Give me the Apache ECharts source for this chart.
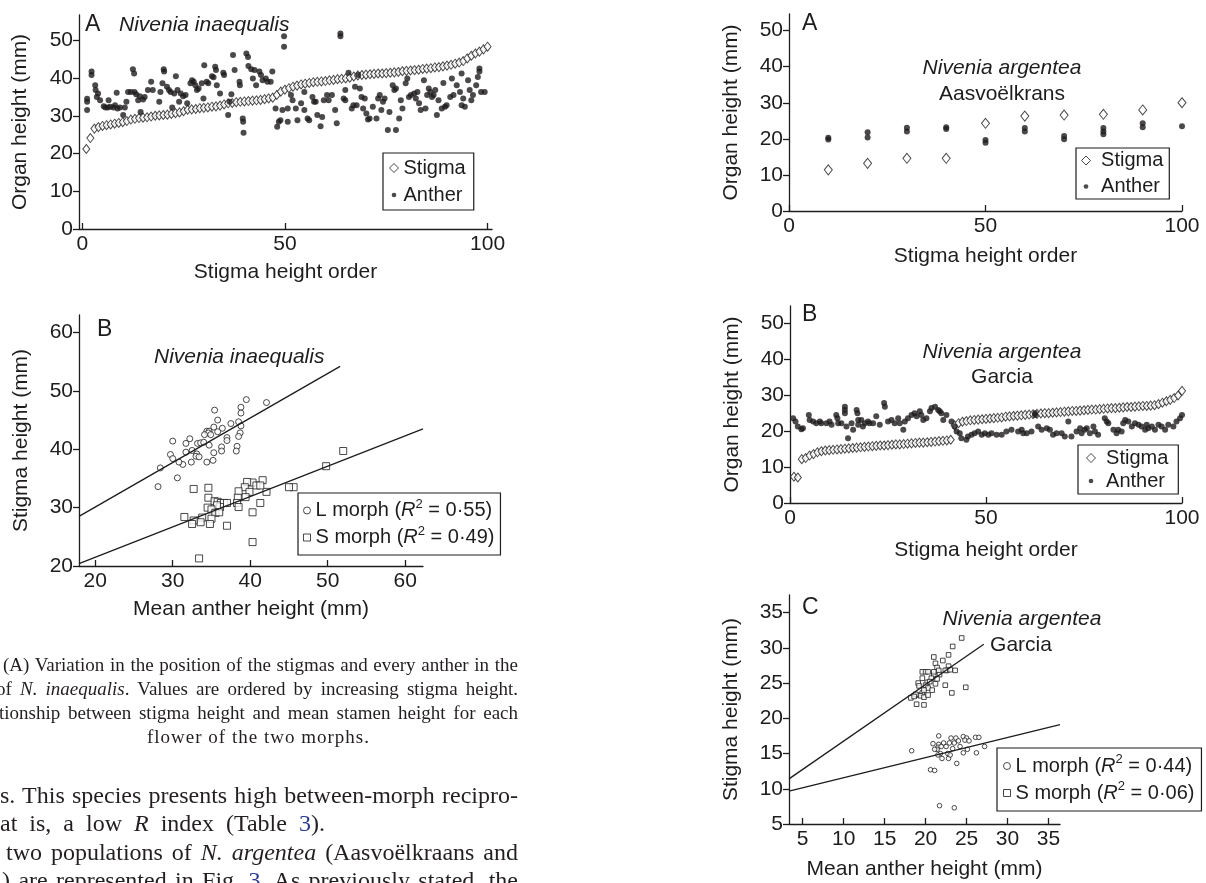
<!DOCTYPE html>
<html>
<head>
<meta charset="utf-8">
<title>Nivenia stigma and anther heights</title>
<script src="https://cdn.jsdelivr.net/npm/echarts@6/dist/echarts.min.js"></script>
<style>
html, body { margin: 0; padding: 0; background: #fff; overflow: hidden; }
#page { position: relative; width: 1206px; height: 883px; overflow: hidden; }
#chart { position: absolute; left: 0; top: 0; width: 1206px; height: 883px; }
.ln { position: absolute; font-family: "Liberation Serif", "DejaVu Serif", serif; color: #231f20; white-space: nowrap; }
.j { white-space: normal; text-align: justify; text-align-last: justify; }
.cap { font-size: 19px; line-height: 24px; }
.body { font-size: 24px; line-height: 29px; }
.ref { color: #2b3990; }
</style>
</head>
<body>
<div id="page">
  <div id="chart"></div>
  <!-- caption of the left figure -->
  <div class="ln cap j" style="left:3px; top:653px; width:515px;">(A) Variation in the position of the stigmas and every anther in the</div>
  <div class="ln cap j" style="left:-4px; top:677px; width:522px;">of <i>N. inaequalis</i>. Values are ordered by increasing stigma height.</div>
  <div class="ln cap j" style="left:-1px; top:701px; width:519px;">tionship between stigma height and mean stamen height for each</div>
  <div class="ln cap" style="left:147px; top:725px; letter-spacing:1px;">flower of the two morphs.</div>
  <!-- running text -->
  <div class="ln body j" style="left:0px; top:781px; width:518px;">s. This species presents high between-morph recipro-</div>
  <div class="ln body" style="left:0px; top:809px; word-spacing:6px;">at is, a low <i>R</i> index (Table <span class="ref">3</span>).</div>
  <div class="ln body j" style="left:6px; top:838px; width:512px;">two populations of <i>N. argentea</i> (Aasvoëlkraans and</div>
  <div class="ln body j" style="left:2px; top:866px; width:516px;">) are represented in Fig. <span class="ref">3</span>. As previously stated, the</div>
</div>
<script>
'use strict';

// ---- data ----

// left A: Nivenia inaequalis, stigma height by rank (1..100)
var stigmaInaeq = [21.2, 24.1, 26.6, 27.0, 27.3, 27.5, 27.7, 27.9, 28.1, 28.3,
  28.6, 29.0, 29.2, 29.4, 29.5, 29.6, 29.8, 30.0, 30.1, 30.2,
  30.3, 30.5, 30.7, 30.9, 31.2, 31.6, 31.7, 31.8, 32.0, 32.1,
  32.2, 32.4, 32.5, 32.7, 33.0, 33.3, 33.4, 33.6, 33.7, 33.8,
  33.9, 34.0, 34.1, 34.2, 34.4, 34.6, 34.8, 35.5, 36.4, 36.9,
  37.3, 37.7, 38.0, 38.3, 38.5, 38.7, 38.9, 39.0, 39.1, 39.2,
  39.4, 39.5, 39.7, 39.8, 39.9, 40.1, 40.4, 40.7, 40.8, 40.9,
  41.0, 41.1, 41.2, 41.2, 41.3, 41.4, 41.5, 41.6, 41.8, 41.9,
  42.0, 42.1, 42.2, 42.4, 42.5, 42.6, 42.8, 42.9, 43.1, 43.3,
  43.5, 43.8, 44.1, 44.5, 45.2, 45.9, 46.5, 47.0, 47.6, 48.3];

// left A: anthers [rank, height]
var antherInaeq = [[1.2,33.7],[1.2,31.5],[1.2,34.5],[2.3,41.7],[2.3,40.8],[3.2,38.1],[3.3,36.8],[3.9,35.9],[3.6,35.0],[4.4,34.1],
  [5.3,32.5],[5.7,32.2],[6.5,34.1],[6.3,32.2],[6.9,32.4],[7.7,32.2],[8.1,32.8],[8.5,36.1],[8.7,31.9],[9.3,32.2],
  [10.1,30.2],[10.5,32.2],[10.9,33.7],[11.3,36.3],[12.0,36.3],[12.5,42.3],[12.8,41.2],[12.9,36.3],[13.3,35.7],[13.8,34.1],
  [14.2,35.2],[14.4,31.0],[15.0,34.3],[15.4,35.0],[16.2,36.8],[17.0,39.0],[17.4,36.8],[19.0,33.7],[19.3,36.3],[19.8,38.6],
  [20.1,42.3],[20.2,41.7],[20.9,37.7],[21.4,36.8],[21.8,36.3],[22.2,32.2],[22.7,35.9],[23.1,40.5],[23.5,36.8],[23.9,33.7],
  [24.3,35.9],[24.9,35.2],[25.5,35.5],[25.9,33.3],[26.7,38.6],[27.1,39.4],[27.5,39.0],[27.9,38.1],[28.3,36.8],[28.7,37.2],
  [29.5,38.6],[29.9,34.6],[30.1,43.4],[30.7,39.0],[31.1,38.6],[32.0,40.5],[32.4,40.2],[32.8,43.0],[33.0,42.1],[33.2,38.1],
  [34.0,35.9],[34.8,41.4],[35.0,40.8],[36.0,30.2],[36.4,33.7],[36.8,35.7],[37.2,46.1],[37.6,42.1],[38.8,39.0],[38.9,38.1],
  [39.6,29.3],[39.7,28.4],[39.8,25.5],[40.5,46.5],[40.9,45.6],[41.0,43.2],[41.7,42.3],[42.1,39.9],[42.5,42.1],[42.9,38.1],
  [43.7,41.7],[44.1,40.8],[44.5,39.4],[45.3,39.9],[45.7,39.0],[46.5,39.0],[46.9,41.7],[47.7,31.9],[48.1,27.1],[48.5,28.4],
  [48.9,28.8],[49.4,31.5],[49.8,51.1],[49.8,48.3],[50.7,31.9],[50.7,28.4],[51.9,34.1],[51.5,35.5],[52.7,31.9],[53.1,28.8],
  [54.0,33.3],[54.8,36.3],[54.8,31.5],[55.6,29.3],[56.0,28.8],[56.8,35.0],[57.2,33.7],[57.6,33.7],[58.0,30.2],[58.8,27.2],
  [59.2,29.7],[59.6,34.1],[60.4,35.5],[60.8,34.1],[61.6,35.5],[62.4,31.5],[62.8,28.0],[63.7,51.8],[63.7,51.1],[64.5,34.6],
  [64.9,36.8],[64.9,34.1],[65.7,41.4],[66.5,31.9],[66.9,32.8],[67.3,37.7],[67.7,32.8],[68.1,40.8],[68.5,37.2],[68.9,35.0],
  [69.3,31.9],[69.7,34.6],[70.1,30.6],[70.5,29.0],[70.9,29.3],[71.7,32.4],[72.6,29.3],[73.0,34.6],[73.4,35.5],[73.8,31.5],
  [74.2,33.7],[74.6,34.6],[75.4,26.2],[75.8,31.0],[76.6,38.1],[77.0,36.8],[77.4,37.2],[77.4,26.2],[78.2,29.3],[78.6,34.1],
  [79.0,31.9],[79.8,38.6],[80.2,39.9],[80.6,35.0],[81.1,35.5],[81.9,35.9],[82.3,34.6],[82.7,36.3],[83.1,33.3],[83.5,31.5],
  [84.3,39.4],[84.7,31.9],[85.1,35.5],[85.5,37.2],[85.9,36.3],[86.3,35.0],[86.7,35.5],[87.1,36.8],[87.5,30.2],[87.9,34.1],
  [88.7,31.9],[89.1,38.7],[89.5,32.4],[89.9,32.8],[90.8,35.0],[91.2,39.9],[91.6,35.5],[92.4,38.1],[93.2,36.3],[93.6,41.2],
  [93.6,32.8],[94.0,34.6],[94.4,32.4],[95.2,39.4],[95.6,36.8],[96.0,34.1],[96.4,35.5],[97.2,38.1],[97.6,40.3],[98.0,42.5],
  [98.0,41.7],[98.4,36.3],[99.3,36.3]];

// left B: [mean anther height, stigma height]
var lMorphInaeq = [[39.5,48.5],[42.1,48.0],[38.8,47.2],[35.4,46.7],[38.8,46.2],[38.5,44.7],[35.8,45.0],[37.5,44.4],[38.8,44.0],[35.3,43.8],
  [36.4,43.6],[34.4,43.1],[34.7,43.1],[34.6,42.8],[34.9,42.5],[34.1,42.5],[35.8,43.0],[38.7,42.8],[38.5,42.2],[37.0,42.0],
  [37.0,41.5],[32.2,41.8],[30.0,41.4],[31.7,41.0],[33.2,41.0],[33.6,41.1],[34.0,41.2],[34.7,40.7],[32.5,39.8],[36.3,40.4],
  [36.3,39.7],[35.3,39.4],[38.3,40.5],[38.2,39.7],[31.7,39.5],[33.1,39.2],[33.0,38.8],[33.4,38.7],[29.7,39.1],[30.0,38.4],
  [31.3,37.4],[30.8,37.8],[32.4,37.8],[34.4,37.8],[35.2,38.1],[28.4,36.8],[30.6,35.1],[28.1,33.6]];
var sMorphInaeq = [[52.0,39.7],[49.8,37.1],[45.6,33.5],[45.0,33.5],[42.1,32.7],[41.6,34.7],[40.3,34.3],[39.6,34.4],[40.8,33.8],[41.3,33.8],
  [39.3,33.5],[39.9,32.7],[39.4,31.8],[38.5,32.8],[38.4,31.7],[38.3,30.8],[38.5,30.1],[41.3,30.8],[40.3,29.2],[40.3,24.1],
  [37.0,26.9],[32.7,33.2],[34.6,33.4],[34.6,31.7],[35.4,31.1],[35.8,31.0],[36.2,30.8],[36.6,30.8],[37.0,30.8],[36.1,30.1],
  [35.7,30.4],[34.5,30.0],[35.0,29.7],[35.5,29.1],[36.0,29.2],[35.0,28.1],[34.8,27.2],[33.8,28.3],[33.6,27.5],[32.7,27.8],
  [32.5,27.2],[31.5,28.4],[33.4,21.3]];
var fitLInaeq = [[17.9,28.5],[51.6,54.2]];
var fitSInaeq = [[17.9,20.4],[62.3,43.5]];
var r2Inaeq = { 'L morph': '0·55', 'S morph': '0·49' };

// right A: N. argentea, Aasvoelkrans (every tenth rank)
var rankAasv = [10, 20, 30, 40, 50, 60, 70, 80, 90, 100];
var stigmaAasv = [11.4, 13.2, 14.6, 14.6, 24.3, 26.3, 26.6, 26.8, 28.0, 30.0];
var antherAasv = [[10,20.3],[10,19.8],[20,21.8],[20,20.4],[30,23.1],[30,22.0],[40,23.2],[40,22.7],[50,19.7],[50,18.9],
  [60,23.0],[60,22.0],[70,20.8],[70,19.9],[80,23.0],[80,22.0],[80,21.3],[90,24.3],[90,23.2],[100,23.5]];

// right B: N. argentea, Garcia, stigma height by rank (1..100)
var stigmaGarcia = [7.3, 7.1, 12.2, 12.5, 13.2, 13.6, 14.1, 14.4, 14.6, 14.7,
  14.8, 14.9, 15.0, 15.1, 15.2, 15.3, 15.4, 15.5, 15.6, 15.7,
  15.8, 15.9, 16.0, 16.0, 16.1, 16.2, 16.3, 16.3, 16.4, 16.5,
  16.6, 16.7, 16.8, 16.8, 16.9, 17.0, 17.1, 17.2, 17.3, 17.4,
  17.6, 21.6, 22.2, 22.6, 22.8, 23.0, 23.1, 23.2, 23.3, 23.4,
  23.5, 23.6, 23.7, 23.8, 24.0, 24.1, 24.2, 24.3, 24.4, 24.5,
  24.6, 24.7, 24.8, 24.9, 25.0, 25.0, 25.1, 25.2, 25.3, 25.4,
  25.5, 25.6, 25.6, 25.7, 25.8, 25.9, 26.0, 26.0, 26.1, 26.2,
  26.3, 26.4, 26.4, 26.5, 26.6, 26.7, 26.7, 26.8, 26.9, 27.0,
  27.0, 27.1, 27.2, 27.5, 27.9, 28.3, 28.7, 29.2, 29.9, 31.2];
var antherGarcia = [[0.8,23.6],[1.4,22.7],[2.0,21.3],[2.9,20.5],[3.3,20.8],[4.8,24.5],[5.0,23.1],[5.9,22.7],[6.7,22.2],[7.6,22.7],
  [8.0,22.2],[9.3,22.2],[10.1,22.7],[10.6,21.8],[11.8,24.5],[12.1,23.6],[12.3,22.2],[13.1,22.2],[14.0,26.8],[14.0,25.9],
  [14.0,25.0],[14.4,21.3],[14.8,18.0],[15.7,22.2],[16.1,20.4],[17.0,25.9],[17.2,25.0],[17.4,23.1],[17.4,21.8],[18.2,23.1],
  [18.6,21.3],[19.1,22.2],[19.9,22.7],[20.3,22.2],[21.2,22.2],[22.0,24.1],[22.9,21.8],[24.0,27.8],[24.2,26.8],[25.0,22.7],
  [25.9,23.1],[26.7,22.2],[27.6,23.6],[28.0,22.2],[28.9,20.4],[29.3,22.7],[30.1,23.6],[31.0,24.5],[31.8,25.0],[32.3,24.1],
  [33.1,25.5],[33.5,24.5],[34.0,23.1],[34.8,23.6],[35.7,25.5],[36.1,26.4],[37.0,26.8],[37.8,25.9],[38.2,25.5],[38.6,25.0],
  [39.1,23.1],[39.9,24.5],[41.2,22.7],[42.0,21.3],[42.5,19.9],[43.3,19.4],[43.7,18.0],[45.0,17.6],[45.4,18.5],[46.3,19.0],
  [47.1,19.4],[48.0,19.9],[48.9,19.0],[49.7,19.4],[50.6,19.0],[51.4,19.4],[52.7,19.0],[54.0,19.0],[55.2,19.9],[56.5,20.4],
  [58.2,19.9],[59.1,20.4],[59.5,19.4],[60.4,19.4],[62.5,24.5],[62.5,25.0],[61.6,19.9],[63.3,21.3],[64.2,20.4],[65.5,20.8],
  [66.3,20.4],[67.1,19.0],[68.0,19.4],[69.3,19.4],[70.1,18.5],[71.0,22.7],[71.8,18.5],[73.1,19.9],[74.0,20.8],[74.4,19.4],
  [75.2,20.4],[75.7,20.8],[76.5,19.4],[77.4,21.3],[77.8,19.9],[78.6,19.0],[80.3,23.6],[80.8,22.7],[81.2,22.2],[82.5,20.4],
  [83.3,19.4],[83.7,20.4],[84.6,19.9],[85.0,22.2],[85.5,23.1],[86.3,22.7],[87.2,21.3],[88.0,22.2],[88.9,21.8],[89.7,21.3],
  [90.6,20.4],[91.0,21.8],[91.4,20.8],[92.3,21.3],[93.1,20.4],[94.0,21.8],[94.8,21.3],[95.7,20.4],[96.5,21.8],[97.8,21.3],
  [98.6,22.7],[99.5,23.6],[100.0,24.5]];

// right C: [mean anther height, stigma height]
var sMorphGarcia = [[24.4,31.4],[23.3,30.2],[22.8,29.0],[21.0,28.7],[22.1,28.2],[21.2,27.8],[21.4,27.2],[21.6,26.8],[22.8,27.4],[22.6,26.8],
  [23.0,26.9],[23.6,26.8],[19.6,26.6],[20.0,26.6],[20.3,26.6],[21.0,26.2],[21.7,26.2],[19.6,25.7],[20.7,25.7],[21.4,25.6],
  [19.1,25.0],[20.2,25.1],[21.2,24.9],[20.0,24.7],[22.4,24.7],[19.2,24.6],[20.3,24.3],[20.8,24.0],[19.6,23.6],[19.0,23.3],
  [18.8,23.4],[18.2,22.9],[18.6,23.1],[19.4,23.2],[19.8,23.0],[20.3,23.3],[23.2,23.6],[24.9,24.4],[18.9,22.0],[19.8,21.9],
  [22.4,26.8],[21.0,26.6],[20.5,25.2],[19.8,24.0]];
var lMorphGarcia = [[18.3,15.4],[20.6,12.7],[21.1,12.6],[21.7,7.6],[23.5,7.3],[21.6,17.5],[20.9,16.4],[21.6,16.3],[21.5,15.9],[21.4,15.6],
  [21.1,15.6],[22.2,16.5],[22.9,16.5],[23.1,17.2],[23.7,17.2],[24.6,17.4],[25.0,17.2],[26.1,17.3],[26.5,17.3],[23.5,16.5],
  [24.2,16.0],[24.8,16.9],[21.8,15.0],[22.7,15.0],[21.5,14.8],[22.0,14.3],[22.8,14.3],[23.8,13.6],[24.6,15.1],[25.1,15.6],
  [26.2,15.1],[27.2,16.0],[23.3,15.7],[24.0,16.8],[22.5,16.0],[25.3,16.8],[21.9,16.0],[23.0,14.8]];
var fitSGarcia = [[3.33,11.4],[27.1,30.5]];
var fitLGarcia = [[3.33,9.66],[36.4,19.1]];
var r2Garcia = { 'L morph': '0·44', 'S morph': '0·06' };

// tick labels
var rankTicks = [0, 50, 100];
var organTicks = [0, 10, 20, 30, 40, 50];
var inaeqXTicks = [20, 30, 40, 50, 60];
var inaeqYTicks = [20, 30, 40, 50, 60];
var garciaXTicks = [5, 10, 15, 20, 25, 30, 35];
var garciaYTicks = [5, 10, 15, 20, 25, 30, 35];

// ---- chart ----
var ink = '#1e1c1d';
var sans = '"Liberation Sans", Arial, Helvetica, sans-serif';

var myChart = echarts.init(document.getElementById('chart'));

function xAxisOf(grid, min, max, ticks, name, gap) {
    return {
        type: 'value', gridIndex: grid, min: min, max: max,
        name: name, nameLocation: 'middle', nameGap: gap,
        nameTextStyle: {fontSize: 21, color: ink, fontFamily: sans},
        axisLine: {show: true, onZero: false, lineStyle: {color: ink, width: 1.3}},
        axisTick: {show: true, inside: true, length: 6, customValues: ticks, lineStyle: {color: ink, width: 1.3}},
        axisLabel: {customValues: ticks, fontSize: 21, color: ink, fontFamily: sans, margin: 5},
        splitLine: {show: false}
    };
}

function yAxisOf(grid, min, max, ticks, name, gap) {
    return {
        type: 'value', gridIndex: grid, min: min, max: max,
        name: name, nameLocation: 'middle', nameGap: gap,
        nameTextStyle: {fontSize: 21, color: ink, fontFamily: sans},
        axisLine: {show: true, onZero: false, lineStyle: {color: ink, width: 1.3}},
        axisTick: {show: true, inside: false, length: 6, customValues: ticks, lineStyle: {color: ink, width: 1.3}},
        axisLabel: {customValues: ticks, fontSize: 21, color: ink, fontFamily: sans, margin: 6},
        splitLine: {show: false}
    };
}

// small dot that only fills half of the legend icon box
var dotIcon = 'path://M0 0M10 10M7.6 5A2.6 2.6 0 1 1 2.4 5A2.6 2.6 0 1 1 7.6 5Z';
var openStyle = {color: '#fff', borderColor: ink, borderWidth: 1};

function organLegend(left, top, padding, rowH, gap, spaced) {
    return {
        left: left, top: top, orient: 'vertical', padding: padding, itemGap: gap,
        itemWidth: 9, itemHeight: 9, selectedMode: false,
        borderColor: ink, borderWidth: 1.2, borderRadius: 0,
        data: [
            {name: 'Stigma', icon: 'diamond', itemStyle: openStyle},
            {name: 'Anther', icon: dotIcon, itemStyle: {color: ink, borderWidth: 0}}
        ],
        formatter: function (name) { return spaced ? ' ' + name : name; },
        textStyle: {fontSize: 20, color: ink, fontFamily: sans, lineHeight: rowH}
    };
}

function morphLegend(left, top, padding, rowH, gap, r2, size) {
    return {
        left: left, top: top, orient: 'vertical', padding: padding, itemGap: gap,
        itemWidth: size, itemHeight: size, selectedMode: false,
        borderColor: ink, borderWidth: 1.2, borderRadius: 0,
        data: [
            {name: 'L morph', icon: 'circle', itemStyle: openStyle},
            {name: 'S morph', icon: 'rect', itemStyle: openStyle}
        ],
        formatter: function (name) {
            return '{t|' + name + ' (}{i|R}{s|2}{t| = ' + r2[name] + ')}';
        },
        textStyle: {
            fontSize: 20, color: ink, fontFamily: sans, lineHeight: rowH,
            rich: {
                t: {fontSize: 20, color: ink, fontFamily: sans, lineHeight: rowH},
                i: {fontSize: 20, color: ink, fontFamily: sans, fontStyle: 'italic', lineHeight: rowH},
                s: {fontSize: 13, color: ink, fontFamily: sans, verticalAlign: 'top', lineHeight: rowH - 6}
            }
        }
    };
}

function label(x, y, text, size, italic, align) {
    return {
        type: 'text', x: x, y: y, silent: true,
        style: {
            text: text, fill: ink, align: align || 'left', verticalAlign: 'middle',
            font: (italic ? 'italic ' : '') + size + 'px ' + sans
        }
    };
}

function scatter(name, grid, data, symbol, size, style) {
    return {
        name: name, type: 'scatter', xAxisIndex: grid, yAxisIndex: grid,
        data: data, symbol: symbol, symbolSize: size, itemStyle: style, silent: true
    };
}

function fit(grid, data) {
    return {
        type: 'line', xAxisIndex: grid, yAxisIndex: grid, data: data,
        symbol: 'none', silent: true, lineStyle: {color: ink, width: 1.3}
    };
}

var option = {
    animation: false,
    backgroundColor: '#fff',
    grid: [
        {left: 79, top: 15, width: 413, height: 214},
        {left: 79, top: 315, width: 344, height: 251},
        {left: 789, top: 14, width: 393, height: 197},
        {left: 790, top: 306, width: 392, height: 197},
        {left: 789, top: 595, width: 271, height: 229}
    ],
    xAxis: [
        xAxisOf(0, -0.8, 101.1, rankTicks, 'Stigma height order', 33),
        xAxisOf(1, 17.9, 62.3, inaeqXTicks, 'Mean anther height (mm)', 33),
        xAxisOf(2, 0, 100, rankTicks, 'Stigma height order', 35),
        xAxisOf(3, 0, 100, rankTicks, 'Stigma height order', 37),
        xAxisOf(4, 3.33, 36.4, garciaXTicks, 'Mean anther height (mm)', 35)
    ],
    yAxis: [
        yAxisOf(0, 0, 56.7, organTicks, 'Organ height (mm)', 48),
        yAxisOf(1, 20, 63, inaeqYTicks, 'Stigma height (mm)', 47),
        yAxisOf(2, 0, 54.6, organTicks, 'Organ height (mm)', 47),
        yAxisOf(3, 0, 54.8, organTicks, 'Organ height (mm)', 47),
        yAxisOf(4, 5, 37.5, garciaYTicks, 'Stigma height (mm)', 47)
    ],
    legend: [
        organLegend(383, 153, [3, 8, 3, 6], 24, 3, false),
        morphLegend(298, 493, [5, 6, 5, 5], 25, 2, r2Inaeq, 7),
        organLegend(1076, 148, [1, 6, 1, 5], 23, 3, true),
        organLegend(1078, 445, [2, 10, 2, 8], 22, 1, true),
        morphLegend(997, 748, [5, 7, 5, 6], 26, 1, r2Garcia, 7)
    ],
    graphic: [
        label(85, 25, 'A', 23),
        label(119, 25, 'Nivenia inaequalis', 21, true),
        label(97, 330, 'B', 23),
        label(154, 357, 'Nivenia inaequalis', 21, true),
        label(802, 24, 'A', 23),
        label(1002, 68, 'Nivenia argentea', 21, true, 'center'),
        label(1002, 94, 'Aasvoëlkrans', 21, false, 'center'),
        label(802, 315, 'B', 23),
        label(1002, 352, 'Nivenia argentea', 21, true, 'center'),
        label(1002, 377, 'Garcia', 21, false, 'center'),
        label(802, 608, 'C', 23),
        label(1022, 619, 'Nivenia argentea', 21, true, 'center'),
        label(1021, 645, 'Garcia', 21, false, 'center')
    ],
    series: [
        scatter('Stigma', 0, stigmaInaeq.map(function (v, i) { return [i + 1, v]; }), 'diamond', [7, 9], openStyle),
        scatter('Anther', 0, antherInaeq, 'circle', 6, {color: ink}),

        fit(1, fitLInaeq),
        fit(1, fitSInaeq),
        scatter('L morph', 1, lMorphInaeq, 'circle', 6, openStyle),
        scatter('S morph', 1, sMorphInaeq, 'rect', 7, openStyle),

        scatter('Stigma', 2, stigmaAasv.map(function (v, i) { return [rankAasv[i], v]; }), 'diamond', [8, 10], openStyle),
        scatter('Anther', 2, antherAasv, 'circle', 6, {color: ink}),

        scatter('Stigma', 3, stigmaGarcia.map(function (v, i) { return [i + 1, v]; }), 'diamond', [7, 9], openStyle),
        scatter('Anther', 3, antherGarcia, 'circle', 6, {color: ink}),

        fit(4, fitSGarcia),
        fit(4, fitLGarcia),
        scatter('L morph', 4, lMorphGarcia, 'circle', 4.6, openStyle),
        scatter('S morph', 4, sMorphGarcia, 'rect', 4.6, openStyle)
    ]
};

myChart.setOption(option);
</script>
</body>
</html>
